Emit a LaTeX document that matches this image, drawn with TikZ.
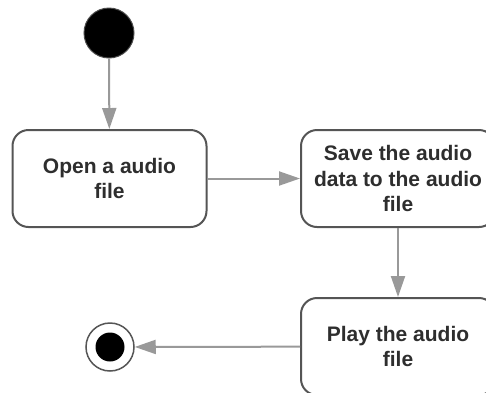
\documentclass[tikz,border=0pt]{standalone}
\usepackage{fontspec}
\setmainfont{Liberation Sans}
\usetikzlibrary{arrows.meta}
\definecolor{boxline}{HTML}{555555}
\definecolor{arrowgray}{HTML}{999999}
\begin{document}
\begin{tikzpicture}[x=1pt,y=-1pt,
  action/.style={draw=boxline,line width=2pt,rounded corners=16pt,fill=white,
    minimum width=194pt,minimum height=97pt,align=center,inner sep=0pt,
    font=\fontsize{21}{25.5}\selectfont\bfseries,text=black!82},
  flow/.style={draw=arrowgray,line width=2pt,-{Triangle[length=21pt,width=14pt]},color=arrowgray}]
\path[use as bounding box] (0,0) rectangle (486,392);
\clip (0,0) rectangle (486,392);
\node[circle,fill=black,draw=black!70,line width=1pt,minimum size=50pt,inner sep=0pt] (start) at (109,33) {};
\node[action] (open) at (109.5,178.5) {Open a audio\\file};
\node[action] (save) at (398,178.5) {Save the audio\\data to the audio\\file};
\node[action] (play) at (398,346.5) {Play the audio\\file};
\node[circle,draw=boxline,line width=1.5pt,fill=white,minimum size=48pt,inner sep=0pt] (final) at (110,347) {};
\node[circle,fill=black,minimum size=29pt,inner sep=0pt] (finalin) at (110,347) {};
\draw[flow] (start) -- (open);
\draw[flow] (open) -- (save);
\draw[flow] (save) -- (play);
\draw[flow] (play) -- (final);
\end{tikzpicture}
\end{document}
